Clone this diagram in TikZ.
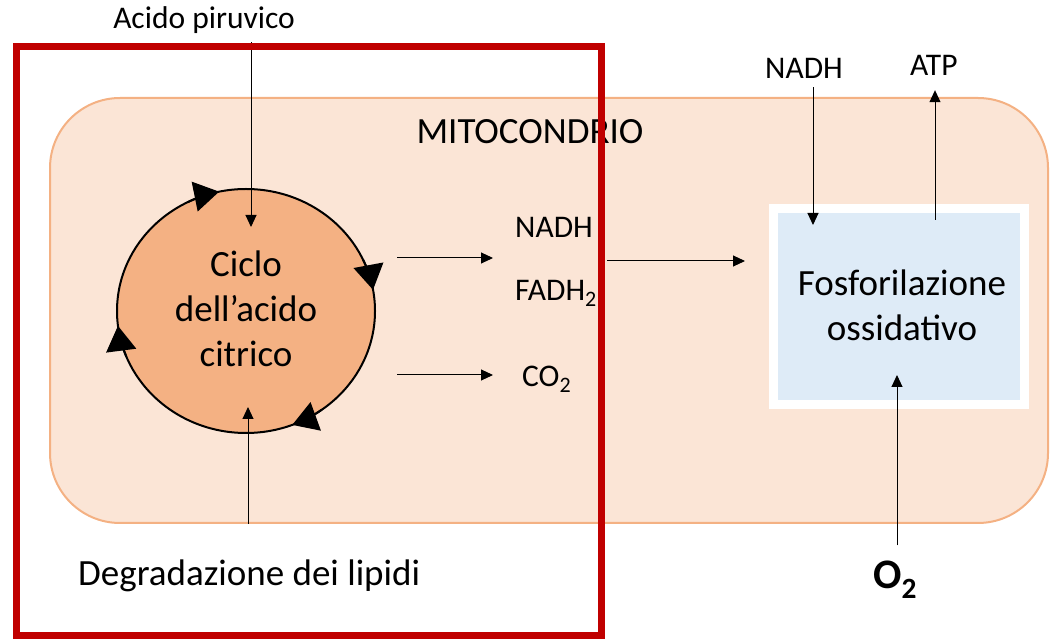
\documentclass[tikz,border=0pt]{standalone}
\usepackage{fontspec}
\setmainfont{Carlito}
\usetikzlibrary{arrows.meta,shapes.geometric}
\definecolor{mitofill}{HTML}{FBE5D6}
\definecolor{mitoline}{HTML}{F4B183}
\definecolor{ciclofill}{HTML}{F4B183}
\definecolor{redframe}{HTML}{C00000}
\definecolor{bluefill}{HTML}{DEEBF7}
\begin{document}
\begin{tikzpicture}[x=1pt,y=1pt,
  lbl/.style={font=\fontsize{31.5}{38}\selectfont, inner sep=0pt},
  big/.style={font=\fontsize{37}{45}\selectfont, inner sep=0pt, align=center},
  conn/.style={line width=1pt, -{Triangle[length=12pt,width=11pt]}},
  cyc/.style={line width=2pt, -{Triangle[length=25pt,width=30pt]}}]
\useasboundingbox (0,0) rectangle (1052,640);
% mitochondrion
\node[draw=mitoline, line width=2pt, fill=mitofill, rounded corners=70pt,
      minimum width=998pt, minimum height=425pt, inner sep=0pt] (mito) at (549,329.5) {};
\node[big, anchor=base] (mitolabel) at (530,496) {MITOCONDRIO};
% citric acid cycle
\node[ellipse, draw, line width=2pt, fill=ciclofill, minimum width=258pt,
      minimum height=244pt, inner sep=0pt] (ciclo) at (246,329) {};
\node[big] (ciclotext) at (246,331.5) {Ciclo\\dell’acido\\citrico};
\foreach \a in {102,10,187,291}{
  \draw[cyc] (246,329) ++({\a+15}:129 and 122)
    arc[start angle=\a+15, end angle=\a, x radius=129, y radius=122];
}
% inputs to cycle
\node[lbl, anchor=base] (acido) at (204,611) {Acido piruvico};
\coordinate (pirin) at (251,413);
\draw[conn] ([yshift=-8pt]acido.south -| pirin) -- (pirin);
\node[big, anchor=base west] (lipidi) at (78,55) {Degradazione dei lipidi};
\coordinate (lipin) at (248,233);
\draw[conn] (mito.south -| lipin) -- (lipin);
% products
\node[lbl, anchor=base west] (nadh1) at (515,402) {NADH};
\node[lbl, anchor=base west] (fadh) at (515,339) {FADH\textsubscript{2}};
\node[lbl, anchor=base west] (co2) at (522,253) {CO\textsubscript{2}};
\coordinate (p1s) at (397,382); \coordinate (p1e) at (493,382);
\coordinate (p2s) at (397,265); \coordinate (p2e) at (493,265);
\draw[conn] (p1s) -- (p1e);
\draw[conn] (p2s) -- (p2e);
\coordinate (p3s) at (607,379); \coordinate (p3e) at (745,379);
\draw[conn] (p3s) -- (p3e);
% oxidative phosphorylation
\node[draw=white, line width=9pt, fill=bluefill, minimum width=251pt,
      minimum height=196pt, inner sep=0pt] (fosfo) at (898.5,333) {};
\node[big] (fosfotext) at (902,334.5) {Fosforilazione\\ossidativo};
\node[lbl, anchor=base west] (nadh2) at (765,561) {NADH};
\coordinate (nadhin) at (813,415);
\draw[conn] ([yshift=-8pt]nadh2.south -| nadhin) -- (nadhin);
\node[lbl, anchor=base west] (atp) at (910,564) {ATP};
\coordinate (atpout) at (935,420);
\draw[conn] (atpout) -- ([yshift=-14pt]atp.south -| atpout);
\node[inner sep=0pt, anchor=base west, font=\fontsize{42}{50}\selectfont\bfseries] (o2) at (873,52) {O\textsubscript{2}};
\coordinate (o2in) at (897,265);
\draw[conn] ([yshift=15pt]o2.north -| o2in) -- (o2in);
% focus frame
\node[draw=redframe, line width=7pt, minimum width=585pt, minimum height=588pt,
      inner sep=0pt] (focus) at (308.5,299) {};
\end{tikzpicture}
\end{document}
